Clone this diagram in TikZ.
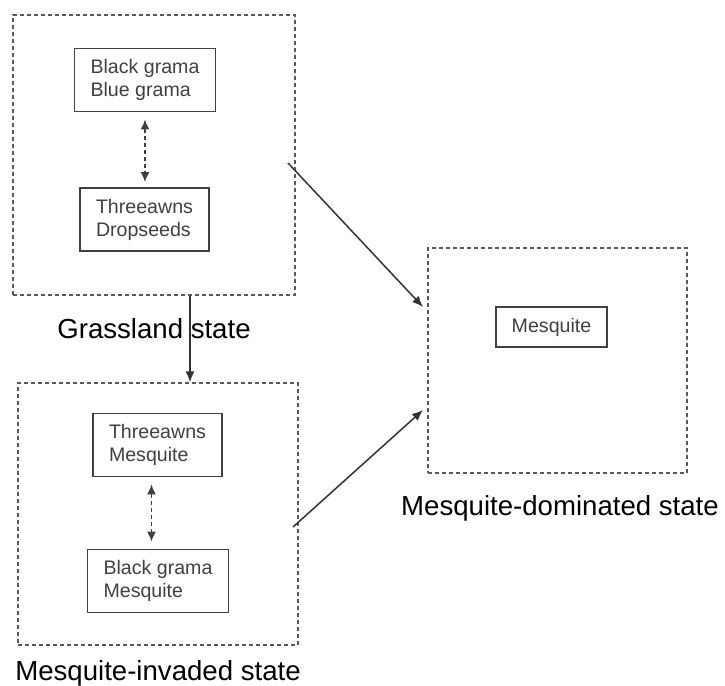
\documentclass[tikz,border=0pt]{standalone}
\usepackage{fontspec}
\setmainfont{Liberation Sans}
\usetikzlibrary{arrows.meta}

\tikzset{
  statebox/.style={draw=black!65, line width=0.7pt, dash pattern=on 2pt off 1.5pt,
    inner sep=0pt},
  speciesbox/.style={draw=black!75, line width=0.8pt, align=left, text=black!75,
    font=\fontsize{9.8}{11.5}\selectfont, inner xsep=8pt, inner ysep=5.5pt},
  statelabel/.style={anchor=base, font=\fontsize{13.8}{16}\selectfont},
  trans/.style={-{Latex[length=5.5pt,width=4.5pt]}, line width=0.75pt, draw=black!80},
  shiftarrow/.style={{Latex[length=5pt,width=4.5pt]}-{Latex[length=5pt,width=4.5pt]},
    line width=0.75pt, draw=black!75, dash pattern=on 2pt off 1.5pt}
}

\begin{document}
\begin{tikzpicture}[x=0.5pt, y=-0.5pt]

  \useasboundingbox (0,0) rectangle (725,686);

  % ============================================================
  % Grassland state
  % ============================================================

  \node[statebox, minimum width=141pt, minimum height=140pt] (grass) at (154,155) {};
  \node[speciesbox] (bgbl) at (145,80) {Black grama\\Blue grama};
  \node[speciesbox] (thds) at (144.5,219.5) {Threeawns\\Dropseeds};
  \draw[shiftarrow, shorten <=3.5pt, shorten >=2.5pt]
    (bgbl.south) -- (bgbl.south |- thds.north);
  \node[statelabel] (grasslbl) at (154,338) {Grassland state};

  % ============================================================
  % Mesquite-invaded state
  % ============================================================

  \node[statebox, minimum width=140pt, minimum height=131pt] (inv) at (158,514) {};
  \node[speciesbox] (thmq) at (157.5,445) {Threeawns\\Mesquite};
  \node[speciesbox] (bgmq) at (158,581) {Black grama\\Mesquite};
  \draw[shiftarrow, shorten <=3.5pt, shorten >=3.5pt]
    ([xshift=-3pt]thmq.south) -- ([xshift=-3pt]thmq.south |- bgmq.north);
  \node[statelabel] (invlbl) at (158,680) {Mesquite-invaded state};

  % ============================================================
  % Mesquite-dominated state
  % ============================================================

  \node[statebox, minimum width=129.5pt, minimum height=112.5pt] (dom) at (557.5,360.5) {};
  \node[speciesbox] (mesq) at (551.5,327) {Mesquite};
  \node[statelabel] (domlbl) at (560,515) {Mesquite-dominated state};

  % Overgangen
  \coordinate (g1) at (288,163);
  \coordinate (g2) at (190,0);
  \coordinate (i1) at (293,527);
  \coordinate (d1) at (423,307);
  \coordinate (d2) at (423,410);

  \draw[trans] (g1) -- (d1);
  \draw[trans] (grass.south -| g2) -- (inv.north -| g2);
  \draw[trans] (i1) -- (d2);

\end{tikzpicture}
\end{document}
